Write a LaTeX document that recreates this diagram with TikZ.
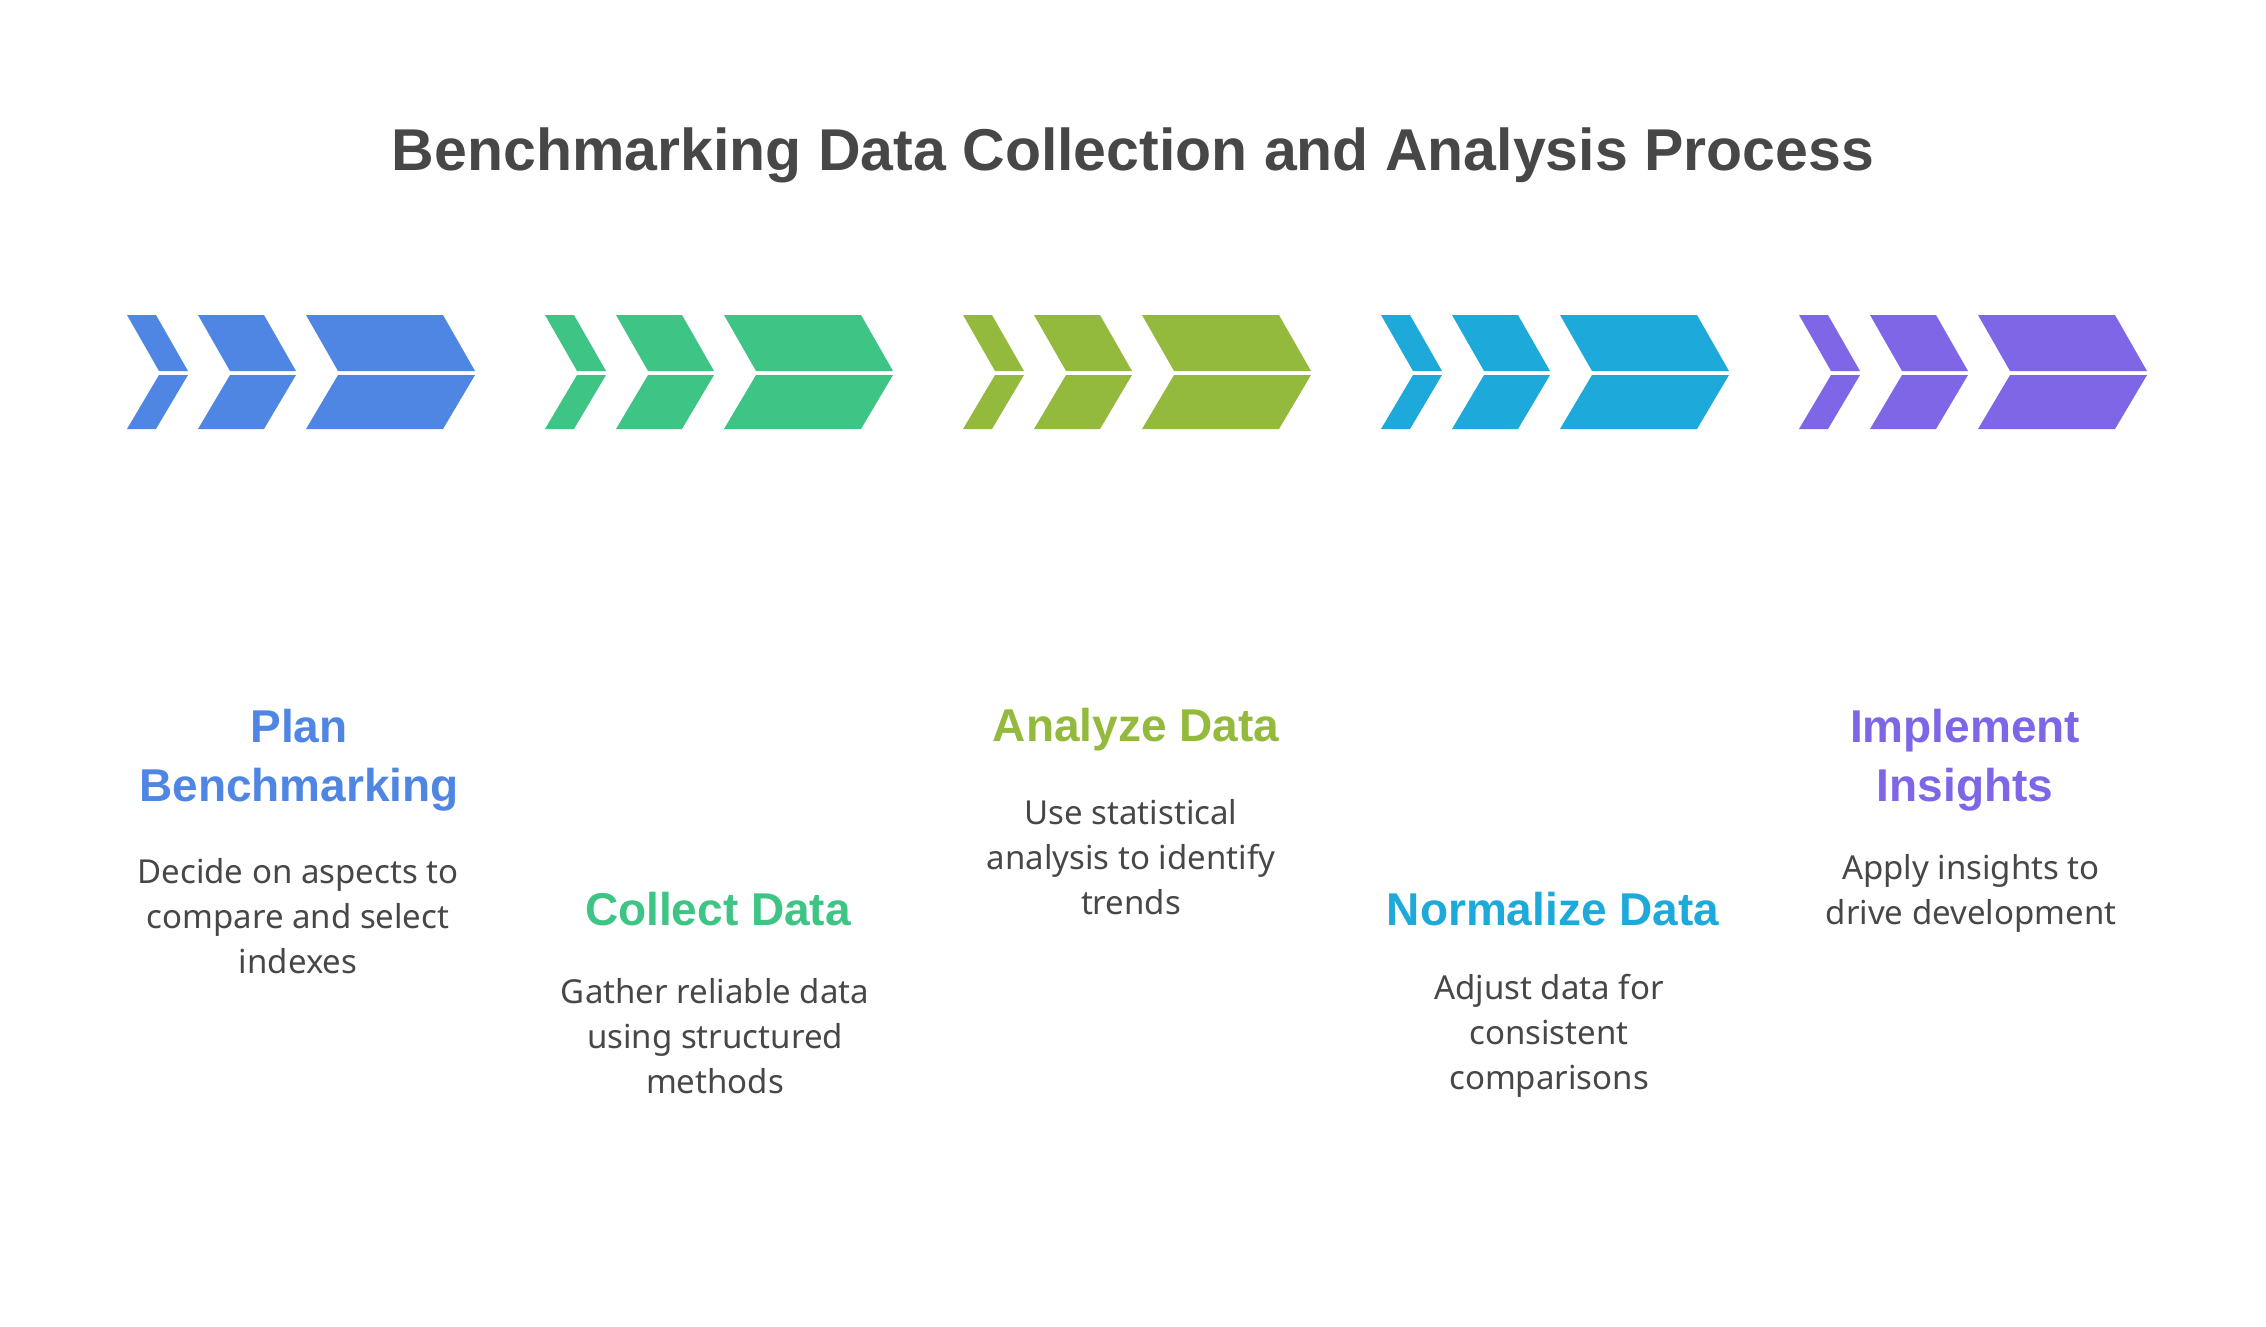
\documentclass[tikz,border=0pt]{standalone}
\usepackage{fontspec}
\setmainfont{Noto Sans}
\newfontfamily\hdfont{Liberation Sans}
\definecolor{cA}{HTML}{4F86E4}
\definecolor{cB}{HTML}{3EC484}
\definecolor{cC}{HTML}{93BA3C}
\definecolor{cD}{HTML}{1EA9DB}
\definecolor{cE}{HTML}{7F66E6}
\definecolor{txt}{HTML}{474747}
\tikzset{
  head/.style={font=\hdfont\fontsize{46}{59}\selectfont\bfseries, align=center},
  body/.style={font=\fontsize{33}{45}\selectfont, text=txt, align=center},
}
\newcommand{\chevgroup}[2]{%
  \foreach \a/\b in {0/29, 71/137, 179/316}{%
    \fill[#2] (#1+\a,-315) -- (#1+\b,-315) -- (#1+\b+32,-371) -- (#1+\a+32,-371) -- cycle;
    \fill[#2] (#1+\a+32,-375) -- (#1+\b+32,-375) -- (#1+\b,-429) -- (#1+\a,-429) -- cycle;
  }}
\begin{document}
\begin{tikzpicture}[x=1pt,y=1pt]
\useasboundingbox (0,0) rectangle (2266,-1326);
\fill[white] (0,0) rectangle (2266,-1326);
\node[font=\hdfont\fontsize{59}{70}\selectfont\bfseries, text=txt] (title) at (1133,-155) {Benchmarking Data Collection and Analysis Process};
\chevgroup{127}{cA}
\chevgroup{545}{cB}
\chevgroup{963}{cC}
\chevgroup{1381}{cD}
\chevgroup{1799}{cE}
\node[head,text=cA] (h1) at (299,-760) {Plan\\Benchmarking};
\node[body] (b1) at (298,-916) {Decide on aspects to\\compare and select\\indexes};
\node[head,text=cB] (h2) at (718,-909) {Collect Data};
\node[body] (b2) at (715,-1036) {Gather reliable data\\using structured\\methods};
\node[head,text=cC] (h3) at (1136,-730) {Analyze Data};
\node[body] (b3) at (1131,-857) {Use statistical\\analysis to identify\\trends};
\node[head,text=cD] (h4) at (1553,-909) {Normalize Data};
\node[body] (b4) at (1549,-1036) {Adjust data for\\consistent\\comparisons};
\node[head,text=cE] (h5) at (1965,-760) {Implement\\Insights};
\node[body] (b5) at (1971,-893) {Apply insights to\\drive development};
\end{tikzpicture}
\end{document}
